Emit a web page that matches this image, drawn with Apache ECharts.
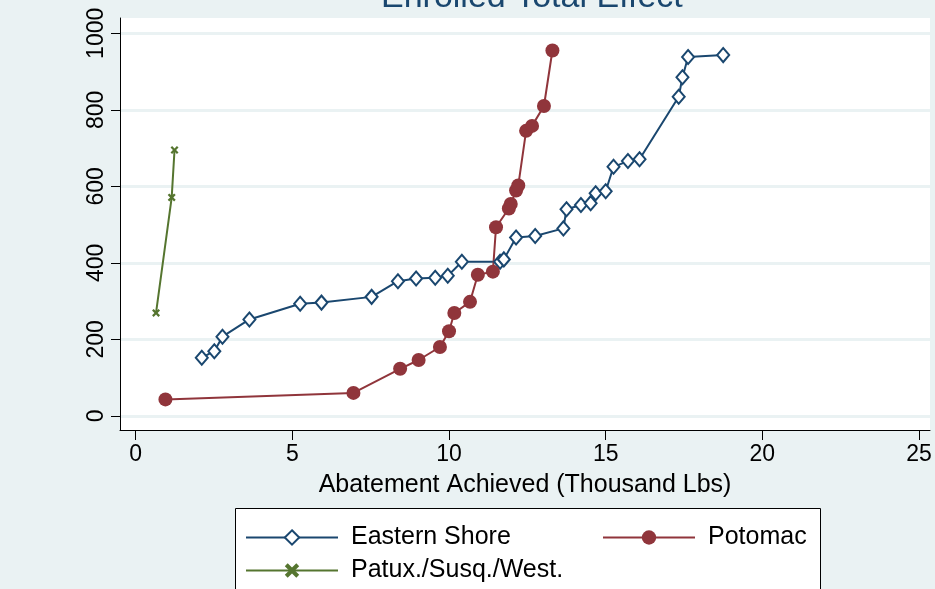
<!DOCTYPE html>
<html>
<head>
<meta charset="utf-8">
<script src="https://cdn.jsdelivr.net/npm/echarts@6/dist/echarts.min.js"></script>
<style>
  html, body { margin: 0; padding: 0; background: #eaf2f3; }
  #chart { width: 935px; height: 589px; }
</style>
</head>
<body>
<div id="chart"></div>
<script>
// values: [abatement (thousand lbs), enrolled]
const easternShore = [
  [2.11, 152], [2.51, 169], [2.77, 207], [3.63, 252], [5.25, 293], [5.93, 296],
  [7.53, 311], [8.37, 352], [8.95, 359], [9.56, 361], [9.96, 366], [10.41, 403],
  [11.63, 403], [11.75, 409], [12.14, 466], [12.75, 470], [13.65, 490], [13.75, 540],
  [14.21, 551], [14.52, 556], [14.68, 582], [15.0, 587], [15.25, 651], [15.71, 666],
  [16.08, 671], [17.33, 834], [17.45, 885], [17.63, 938], [18.75, 943]
]
const potomac = [
  [0.95, 43], [6.95, 60], [8.44, 123], [9.03, 146], [9.71, 180], [10.0, 221],
  [10.17, 269], [10.67, 298], [10.92, 369], [11.40, 377], [11.50, 493], [11.91, 542],
  [11.97, 554], [12.14, 589], [12.21, 602], [12.46, 745], [12.65, 758], [13.03, 810],
  [13.30, 955]
]
const patuxSusqWest = [
  [0.65, 269], [1.15, 571], [1.24, 695]
]
const xTicks = [0, 5, 10, 15, 20, 25]
const yTicks = [0, 200, 400, 600, 800, 1000]

const font = 'Liberation Sans, Arial, sans-serif'
const bgColor = '#eaf2f3'
const xMark = 'path://M0,2L2,0L5,3L8,0L10,2L7,5L10,8L8,10L5,7L2,10L0,8L3,5Z'

const chart = echarts.init(document.getElementById('chart'))

const legendText = { color: '#000', fontFamily: font, fontSize: 25, padding: [0, 0, 0, 8] }

const option = {
  backgroundColor: bgColor,
  animation: false,
  title: {
    text: 'Enrolled Total Effect',
    left: 376,
    top: -24,
    textStyle: { color: '#1a476f', fontFamily: font, fontSize: 34, fontWeight: 'normal' }
  },
  grid: {
    left: 120, top: 18, right: 5, bottom: 159,
    show: true, backgroundColor: '#fff', borderWidth: 0
  },
  xAxis: {
    type: 'value',
    min: -0.5,
    max: 25.35,
    name: 'Abatement Achieved (Thousand Lbs)',
    nameLocation: 'middle',
    nameGap: 43,
    nameTextStyle: { color: '#000', fontFamily: font, fontSize: 25 },
    axisLine: { onZero: false, lineStyle: { color: '#000', width: 1 } },
    axisTick: { show: true, length: 10, customValues: xTicks, lineStyle: { color: '#000' } },
    axisLabel: { customValues: xTicks, margin: 13, color: '#000', fontFamily: font, fontSize: 23 },
    splitLine: { show: false }
  },
  yAxis: {
    type: 'value',
    min: -37,
    max: 1040,
    axisLine: { show: true, onZero: false, lineStyle: { color: '#000', width: 1 } },
    axisTick: { show: true, length: 9, customValues: yTicks, lineStyle: { color: '#000' } },
    axisLabel: {
      customValues: yTicks, rotate: 90, margin: 12,
      color: '#000', fontFamily: font, fontSize: 23,
      formatter: v => String(v)
    },
    splitLine: { show: true, lineStyle: { color: bgColor, width: 3 } }
  },
  legend: [
    { data: ['Eastern Shore'], left: 240, top: 520, itemWidth: 92, itemHeight: 18, textStyle: legendText },
    { data: ['Potomac'], left: 597, top: 520, itemWidth: 92, itemHeight: 18, textStyle: legendText },
    { data: ['Patux./Susq./West.'], left: 240, top: 553, itemWidth: 92, itemHeight: 18, textStyle: legendText }
  ],
  graphic: [
    {
      type: 'rect', left: 235, top: 508, z: -1,
      shape: { width: 585, height: 100 },
      style: { fill: '#fff', stroke: '#000', lineWidth: 1 }
    }
  ],
  series: [
    {
      name: 'Eastern Shore',
      type: 'line',
      data: easternShore,
      symbol: 'emptyDiamond',
      symbolSize: [12, 14],
      color: '#1a476f',
      lineStyle: { width: 2 },
      itemStyle: { borderWidth: 2 }
    },
    {
      name: 'Potomac',
      type: 'line',
      data: potomac,
      symbol: 'circle',
      symbolSize: 14,
      color: '#90353b',
      lineStyle: { width: 2 }
    },
    {
      name: 'Patux./Susq./West.',
      type: 'line',
      data: patuxSusqWest,
      symbol: xMark,
      symbolSize: 8,
      color: '#55752f',
      lineStyle: { width: 2 }
    }
  ]
}

chart.setOption(option)
</script>
</body>
</html>
